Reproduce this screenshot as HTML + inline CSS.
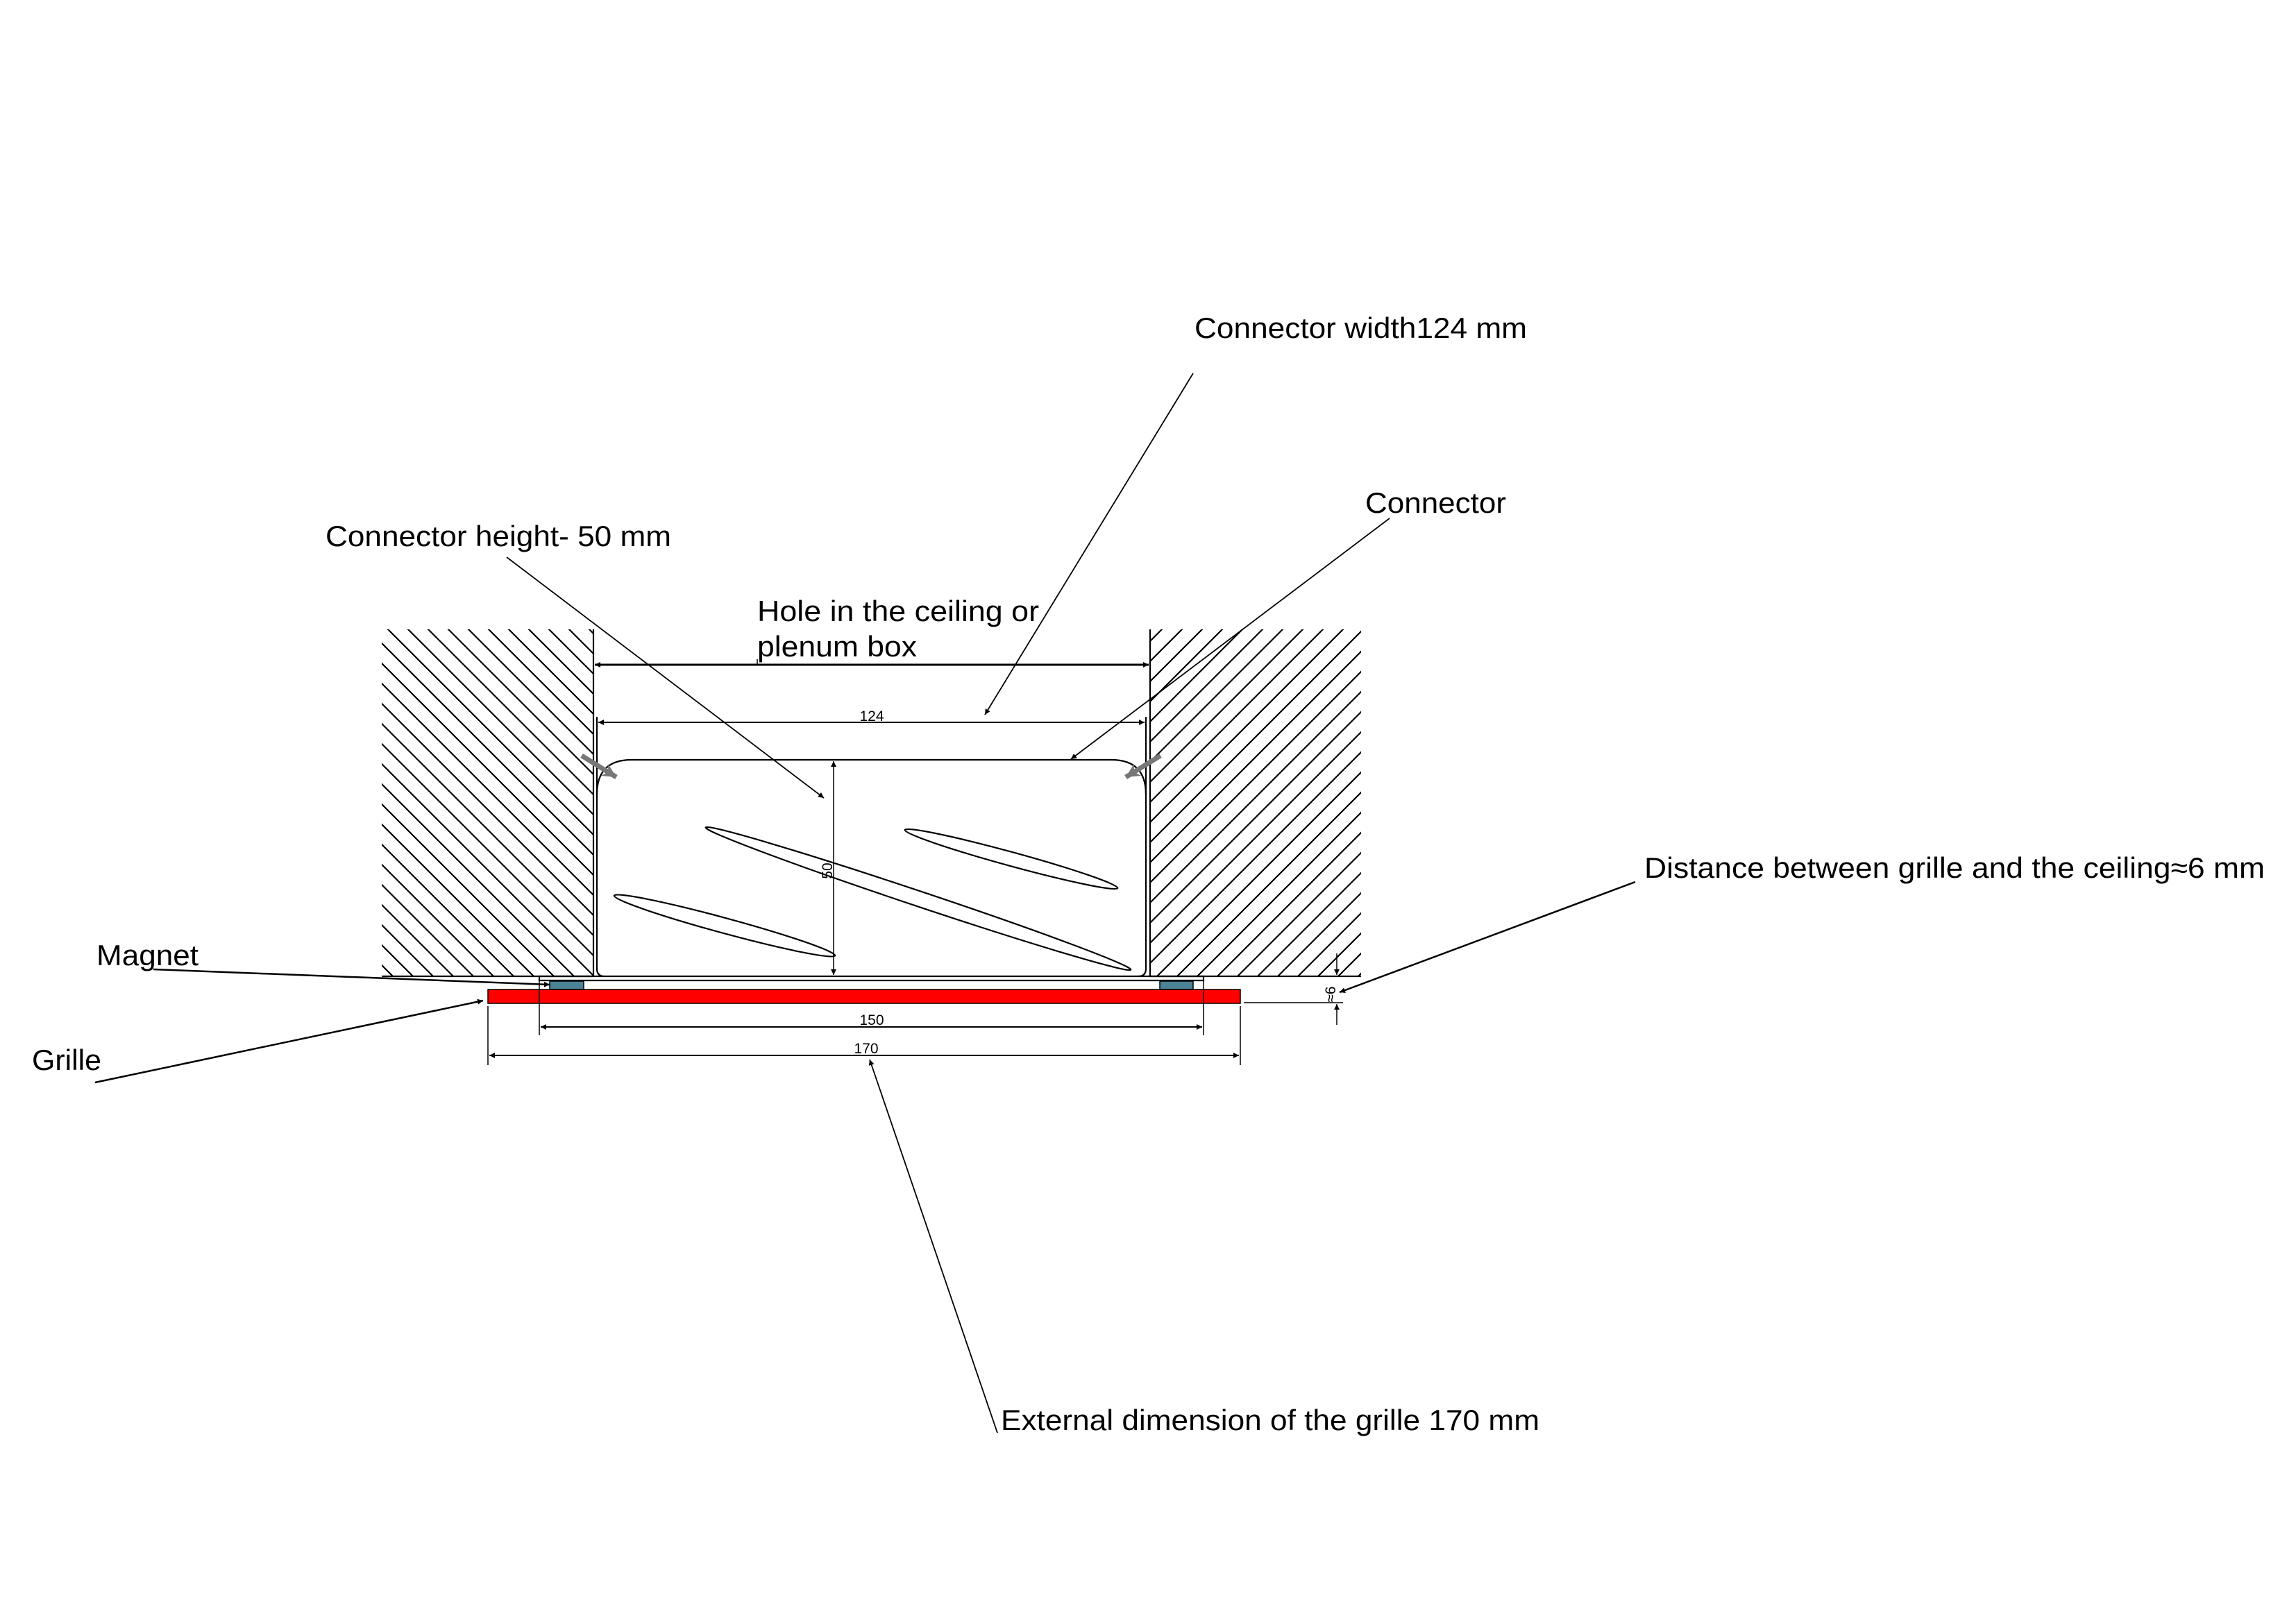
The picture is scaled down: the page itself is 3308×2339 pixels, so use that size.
<!DOCTYPE html>
<html><head><meta charset="utf-8"><style>html,body{margin:0;padding:0;background:#fff}svg{display:block}</style></head><body>
<svg width="3308" height="2339" viewBox="0 0 3308 2339" xmlns="http://www.w3.org/2000/svg" font-family="Liberation Sans, sans-serif">
<defs>
<pattern id="hl" width="29" height="29" patternUnits="userSpaceOnUse"><path d="M-1,-1 L30,30 M-15,14 L15,44 M14,-15 L44,15" stroke="#000" stroke-width="2.2"/></pattern>
<pattern id="hr" width="29" height="29" patternUnits="userSpaceOnUse"><path d="M-1,30 L30,-1 M-15,15 L15,-15 M14,44 L44,14" stroke="#000" stroke-width="2.2"/></pattern>
<marker id="a" viewBox="0 0 10 10" refX="10" refY="5" markerWidth="14" markerHeight="8" markerUnits="userSpaceOnUse" orient="auto-start-reverse"><path d="M0,0 L10,5 L0,10 Z" fill="#000"/></marker>
<marker id="g" viewBox="0 0 10 10" refX="10" refY="5" markerWidth="22" markerHeight="20" markerUnits="userSpaceOnUse" orient="auto"><path d="M0,0 L10,5 L0,10 L3,5 Z" fill="#777"/></marker>
</defs>
<!-- hatch -->
<rect x="550" y="907" width="304" height="500" fill="url(#hl)"/>
<rect x="1657" y="907" width="304" height="500" fill="url(#hr)"/>
<g stroke="#000" stroke-width="2.2" fill="none">
<line x1="855" y1="907" x2="855" y2="1407"/>
<line x1="1657" y1="907" x2="1657" y2="1407"/>
<line x1="550" y1="1407" x2="855" y2="1407"/>
<line x1="1657" y1="1407" x2="1961" y2="1407"/>
<!-- connector -->
<path d="M860,1033 L860,1396 Q860,1407 871,1407 L1734,1407 L1734,1413 L777,1413 L777,1407 L871,1407"/>
<path d="M1651,1033 L1651,1396 Q1651,1407 1640,1407"/>
<path d="M860,1145 Q860,1095 910,1095 L1601,1095 Q1651,1095 1651,1145"/>
<!-- ellipses -->
<ellipse cx="1044" cy="1334" rx="165" ry="11" transform="rotate(15.2 1044 1334)"/>
<ellipse cx="1323" cy="1295" rx="323" ry="11" transform="rotate(18.5 1323 1295)"/>
<ellipse cx="1457" cy="1238" rx="159" ry="10" transform="rotate(15.3 1457 1238)"/>
</g>
<!-- screws -->
<line x1="838" y1="1089" x2="888" y2="1120" stroke="#777" stroke-width="7" marker-end="url(#g)"/>
<line x1="1672" y1="1089" x2="1622" y2="1120" stroke="#777" stroke-width="7" marker-end="url(#g)"/>
<!-- magnets & grille -->
<rect x="792" y="1414" width="49" height="12" fill="#4a8396" stroke="#000" stroke-width="1.5"/>
<rect x="1671" y="1414" width="48" height="12" fill="#4a8396" stroke="#000" stroke-width="1.5"/>
<rect x="703" y="1426" width="1084" height="20" fill="#ff0000" stroke="#000" stroke-width="1.5"/>
<!-- dimensions -->
<g stroke="#000" stroke-width="2" fill="none">
<line x1="857" y1="958" x2="1655" y2="958" stroke-width="3" marker-start="url(#a)" marker-end="url(#a)"/>
<line x1="862" y1="1041" x2="1649" y2="1041" marker-start="url(#a)" marker-end="url(#a)"/>
<line x1="1201" y1="1097" x2="1201" y2="1405" stroke-width="1.5" marker-start="url(#a)" marker-end="url(#a)"/>
<line x1="777" y1="1413" x2="777" y2="1492" stroke-width="1.5"/>
<line x1="1734" y1="1413" x2="1734" y2="1492" stroke-width="1.5"/>
<line x1="779" y1="1480" x2="1732" y2="1480" marker-start="url(#a)" marker-end="url(#a)"/>
<line x1="703" y1="1450" x2="703" y2="1535" stroke-width="1.5"/>
<line x1="1787" y1="1450" x2="1787" y2="1535" stroke-width="1.5"/>
<line x1="705" y1="1521" x2="1785" y2="1521" marker-start="url(#a)" marker-end="url(#a)"/>
<line x1="1926" y1="1374" x2="1926" y2="1405" stroke-width="1.5" marker-end="url(#a)"/>
<line x1="1926" y1="1477" x2="1926" y2="1447" stroke-width="1.5" marker-end="url(#a)"/>
<line x1="1792" y1="1445" x2="1935" y2="1445" stroke-width="1.5"/>
<line x1="1091" y1="950" x2="1091" y2="958" stroke-width="1.5"/>
<!-- leaders -->
<line x1="1719" y1="538" x2="1419" y2="1030" stroke-width="1.8" marker-end="url(#a)"/>
<line x1="2002" y1="747" x2="1543" y2="1094" stroke-width="1.8" marker-end="url(#a)"/>
<line x1="730" y1="803" x2="1187" y2="1150" stroke-width="1.8" marker-end="url(#a)"/>
<line x1="221" y1="1397" x2="792" y2="1419" stroke-width="2.5" marker-end="url(#a)"/>
<line x1="137" y1="1560" x2="696" y2="1442" stroke-width="2.5" marker-end="url(#a)"/>
<line x1="2356" y1="1271" x2="1930" y2="1430" stroke-width="2.5" marker-end="url(#a)"/>
<line x1="1437" y1="2065" x2="1253" y2="1527" stroke-width="1.8" marker-end="url(#a)"/>
</g>
<!-- small dim text -->
<g font-size="21" fill="#000">
<text x="1256" y="1039" text-anchor="middle">124</text>
<text x="1256" y="1477" text-anchor="middle">150</text>
<text x="1248" y="1518" text-anchor="middle">170</text>
<text transform="translate(1199,1255) rotate(-90)" text-anchor="middle">50</text>
<text transform="translate(1924,1433) rotate(-90)" text-anchor="middle">≈6</text>
</g>
<!-- labels -->
<g font-size="42" fill="#000">
<text x="1721" y="487" textLength="479" lengthAdjust="spacingAndGlyphs">Connector width124 mm</text>
<text x="1967" y="739" textLength="203" lengthAdjust="spacingAndGlyphs">Connector</text>
<text x="469" y="787" textLength="498" lengthAdjust="spacingAndGlyphs">Connector height- 50 mm</text>
<text x="1091" y="895" textLength="406" lengthAdjust="spacingAndGlyphs">Hole in the ceiling or</text>
<text x="1091" y="946" textLength="230" lengthAdjust="spacingAndGlyphs">plenum box</text>
<text x="139" y="1391" textLength="147" lengthAdjust="spacingAndGlyphs">Magnet</text>
<text x="46" y="1542" textLength="100" lengthAdjust="spacingAndGlyphs">Grille</text>
<text x="2369" y="1265" textLength="894" lengthAdjust="spacingAndGlyphs">Distance between grille and the ceiling≈6 mm</text>
<text x="1442" y="2061" textLength="776" lengthAdjust="spacingAndGlyphs">External dimension of the grille 170 mm</text>
</g>
</svg>
</body></html>
